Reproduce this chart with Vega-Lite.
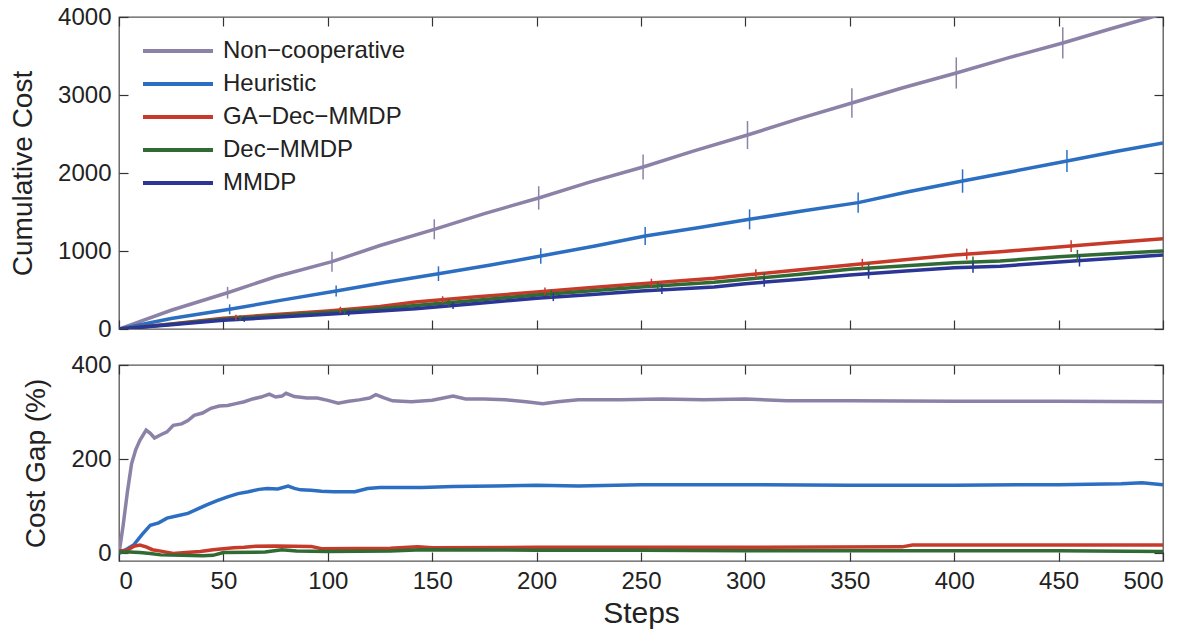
{
  "$schema": "https://vega.github.io/schema/vega-lite/v6.json",
  "background": "white",
  "padding": {"left": 8, "top": 4, "right": 17, "bottom": 0},
  "spacing": 10,
  "datasets": {
    "cost": [
      {"series": "Non−cooperative", "step": 0, "value": 0},
      {"series": "Non−cooperative", "step": 25, "value": 240},
      {"series": "Non−cooperative", "step": 52, "value": 465},
      {"series": "Non−cooperative", "step": 75, "value": 670},
      {"series": "Non−cooperative", "step": 102, "value": 863},
      {"series": "Non−cooperative", "step": 125, "value": 1070},
      {"series": "Non−cooperative", "step": 151, "value": 1278},
      {"series": "Non−cooperative", "step": 175, "value": 1480},
      {"series": "Non−cooperative", "step": 201, "value": 1680},
      {"series": "Non−cooperative", "step": 225, "value": 1880},
      {"series": "Non−cooperative", "step": 251, "value": 2077},
      {"series": "Non−cooperative", "step": 275, "value": 2280},
      {"series": "Non−cooperative", "step": 301, "value": 2487},
      {"series": "Non−cooperative", "step": 325, "value": 2690},
      {"series": "Non−cooperative", "step": 351, "value": 2897},
      {"series": "Non−cooperative", "step": 375, "value": 3090},
      {"series": "Non−cooperative", "step": 401, "value": 3282},
      {"series": "Non−cooperative", "step": 425, "value": 3470},
      {"series": "Non−cooperative", "step": 452, "value": 3667},
      {"series": "Non−cooperative", "step": 475, "value": 3850},
      {"series": "Non−cooperative", "step": 500, "value": 4040},
      {"series": "Heuristic", "step": 0, "value": 0},
      {"series": "Heuristic", "step": 25, "value": 135},
      {"series": "Heuristic", "step": 53, "value": 252},
      {"series": "Heuristic", "step": 78, "value": 370},
      {"series": "Heuristic", "step": 104, "value": 487},
      {"series": "Heuristic", "step": 128, "value": 600},
      {"series": "Heuristic", "step": 153, "value": 709},
      {"series": "Heuristic", "step": 178, "value": 820},
      {"series": "Heuristic", "step": 202, "value": 936},
      {"series": "Heuristic", "step": 228, "value": 1065},
      {"series": "Heuristic", "step": 252, "value": 1192},
      {"series": "Heuristic", "step": 278, "value": 1300},
      {"series": "Heuristic", "step": 302, "value": 1406},
      {"series": "Heuristic", "step": 328, "value": 1515},
      {"series": "Heuristic", "step": 354, "value": 1620},
      {"series": "Heuristic", "step": 378, "value": 1760},
      {"series": "Heuristic", "step": 404, "value": 1897},
      {"series": "Heuristic", "step": 428, "value": 2020},
      {"series": "Heuristic", "step": 454, "value": 2154},
      {"series": "Heuristic", "step": 478, "value": 2280},
      {"series": "Heuristic", "step": 500, "value": 2385},
      {"series": "GA−Dec−MMDP", "step": 0, "value": 0},
      {"series": "GA−Dec−MMDP", "step": 25, "value": 65},
      {"series": "GA−Dec−MMDP", "step": 50, "value": 137},
      {"series": "GA−Dec−MMDP", "step": 75, "value": 185},
      {"series": "GA−Dec−MMDP", "step": 100, "value": 231},
      {"series": "GA−Dec−MMDP", "step": 125, "value": 290},
      {"series": "GA−Dec−MMDP", "step": 142, "value": 345},
      {"series": "GA−Dec−MMDP", "step": 170, "value": 410},
      {"series": "GA−Dec−MMDP", "step": 200, "value": 474},
      {"series": "GA−Dec−MMDP", "step": 225, "value": 528},
      {"series": "GA−Dec−MMDP", "step": 250, "value": 581},
      {"series": "GA−Dec−MMDP", "step": 285, "value": 650},
      {"series": "GA−Dec−MMDP", "step": 300, "value": 692},
      {"series": "GA−Dec−MMDP", "step": 325, "value": 755},
      {"series": "GA−Dec−MMDP", "step": 350, "value": 820},
      {"series": "GA−Dec−MMDP", "step": 375, "value": 885},
      {"series": "GA−Dec−MMDP", "step": 400, "value": 949},
      {"series": "GA−Dec−MMDP", "step": 422, "value": 990},
      {"series": "GA−Dec−MMDP", "step": 450, "value": 1051},
      {"series": "GA−Dec−MMDP", "step": 475, "value": 1105},
      {"series": "GA−Dec−MMDP", "step": 500, "value": 1158},
      {"series": "Dec−MMDP", "step": 0, "value": 0},
      {"series": "Dec−MMDP", "step": 25, "value": 60},
      {"series": "Dec−MMDP", "step": 50, "value": 124},
      {"series": "Dec−MMDP", "step": 75, "value": 170},
      {"series": "Dec−MMDP", "step": 100, "value": 210},
      {"series": "Dec−MMDP", "step": 125, "value": 260},
      {"series": "Dec−MMDP", "step": 142, "value": 300},
      {"series": "Dec−MMDP", "step": 170, "value": 365},
      {"series": "Dec−MMDP", "step": 200, "value": 436},
      {"series": "Dec−MMDP", "step": 225, "value": 487},
      {"series": "Dec−MMDP", "step": 250, "value": 538},
      {"series": "Dec−MMDP", "step": 285, "value": 600},
      {"series": "Dec−MMDP", "step": 300, "value": 637},
      {"series": "Dec−MMDP", "step": 325, "value": 700},
      {"series": "Dec−MMDP", "step": 350, "value": 765},
      {"series": "Dec−MMDP", "step": 375, "value": 808},
      {"series": "Dec−MMDP", "step": 400, "value": 850},
      {"series": "Dec−MMDP", "step": 422, "value": 872},
      {"series": "Dec−MMDP", "step": 450, "value": 927},
      {"series": "Dec−MMDP", "step": 475, "value": 965},
      {"series": "Dec−MMDP", "step": 500, "value": 1000},
      {"series": "MMDP", "step": 0, "value": 0},
      {"series": "MMDP", "step": 25, "value": 55},
      {"series": "MMDP", "step": 50, "value": 111},
      {"series": "MMDP", "step": 75, "value": 150},
      {"series": "MMDP", "step": 100, "value": 188},
      {"series": "MMDP", "step": 125, "value": 230},
      {"series": "MMDP", "step": 142, "value": 261},
      {"series": "MMDP", "step": 170, "value": 325},
      {"series": "MMDP", "step": 200, "value": 393},
      {"series": "MMDP", "step": 225, "value": 440},
      {"series": "MMDP", "step": 250, "value": 487},
      {"series": "MMDP", "step": 285, "value": 538},
      {"series": "MMDP", "step": 300, "value": 581},
      {"series": "MMDP", "step": 325, "value": 636},
      {"series": "MMDP", "step": 350, "value": 692},
      {"series": "MMDP", "step": 375, "value": 740},
      {"series": "MMDP", "step": 400, "value": 786},
      {"series": "MMDP", "step": 422, "value": 805},
      {"series": "MMDP", "step": 450, "value": 859},
      {"series": "MMDP", "step": 475, "value": 905},
      {"series": "MMDP", "step": 500, "value": 949}
    ],
    "err": [
      {"series": "Non−cooperative", "step": 52, "lo": 390, "hi": 540},
      {"series": "Non−cooperative", "step": 102, "lo": 735, "hi": 991},
      {"series": "Non−cooperative", "step": 151, "lo": 1150, "hi": 1406},
      {"series": "Non−cooperative", "step": 201, "lo": 1530, "hi": 1830},
      {"series": "Non−cooperative", "step": 251, "lo": 1917, "hi": 2237},
      {"series": "Non−cooperative", "step": 301, "lo": 2307, "hi": 2667},
      {"series": "Non−cooperative", "step": 351, "lo": 2707, "hi": 3087},
      {"series": "Non−cooperative", "step": 401, "lo": 3082, "hi": 3482},
      {"series": "Non−cooperative", "step": 452, "lo": 3467, "hi": 3867},
      {"series": "Heuristic", "step": 53, "lo": 188, "hi": 316},
      {"series": "Heuristic", "step": 104, "lo": 417, "hi": 557},
      {"series": "Heuristic", "step": 153, "lo": 615, "hi": 803},
      {"series": "Heuristic", "step": 202, "lo": 836, "hi": 1036},
      {"series": "Heuristic", "step": 252, "lo": 1077, "hi": 1307},
      {"series": "Heuristic", "step": 302, "lo": 1278, "hi": 1534},
      {"series": "Heuristic", "step": 354, "lo": 1490, "hi": 1750},
      {"series": "Heuristic", "step": 404, "lo": 1747, "hi": 2047},
      {"series": "Heuristic", "step": 454, "lo": 2014, "hi": 2294},
      {"series": "GA−Dec−MMDP", "step": 56, "lo": 113, "hi": 183},
      {"series": "GA−Dec−MMDP", "step": 106, "lo": 205, "hi": 285},
      {"series": "GA−Dec−MMDP", "step": 155, "lo": 330, "hi": 420},
      {"series": "GA−Dec−MMDP", "step": 204, "lo": 433, "hi": 533},
      {"series": "GA−Dec−MMDP", "step": 255, "lo": 535, "hi": 645},
      {"series": "GA−Dec−MMDP", "step": 305, "lo": 645, "hi": 765},
      {"series": "GA−Dec−MMDP", "step": 356, "lo": 770, "hi": 900},
      {"series": "GA−Dec−MMDP", "step": 406, "lo": 890, "hi": 1030},
      {"series": "GA−Dec−MMDP", "step": 456, "lo": 987, "hi": 1137},
      {"series": "Dec−MMDP", "step": 58, "lo": 103, "hi": 173},
      {"series": "Dec−MMDP", "step": 108, "lo": 186, "hi": 266},
      {"series": "Dec−MMDP", "step": 158, "lo": 290, "hi": 380},
      {"series": "Dec−MMDP", "step": 207, "lo": 400, "hi": 500},
      {"series": "Dec−MMDP", "step": 258, "lo": 495, "hi": 605},
      {"series": "Dec−MMDP", "step": 309, "lo": 600, "hi": 720},
      {"series": "Dec−MMDP", "step": 359, "lo": 715, "hi": 845},
      {"series": "Dec−MMDP", "step": 409, "lo": 788, "hi": 928},
      {"series": "Dec−MMDP", "step": 459, "lo": 865, "hi": 1015},
      {"series": "MMDP", "step": 60, "lo": 91, "hi": 161},
      {"series": "MMDP", "step": 110, "lo": 165, "hi": 245},
      {"series": "MMDP", "step": 160, "lo": 257, "hi": 347},
      {"series": "MMDP", "step": 208, "lo": 358, "hi": 458},
      {"series": "MMDP", "step": 260, "lo": 450, "hi": 560},
      {"series": "MMDP", "step": 309, "lo": 541, "hi": 661},
      {"series": "MMDP", "step": 359, "lo": 644, "hi": 774},
      {"series": "MMDP", "step": 409, "lo": 722, "hi": 862},
      {"series": "MMDP", "step": 460, "lo": 802, "hi": 952}
    ],
    "gap": [
      {"series": "Non−cooperative", "step": 0, "value": 0},
      {"series": "Non−cooperative", "step": 2, "value": 60},
      {"series": "Non−cooperative", "step": 4, "value": 130},
      {"series": "Non−cooperative", "step": 6, "value": 190},
      {"series": "Non−cooperative", "step": 8, "value": 220},
      {"series": "Non−cooperative", "step": 10, "value": 240},
      {"series": "Non−cooperative", "step": 13, "value": 262},
      {"series": "Non−cooperative", "step": 15, "value": 255},
      {"series": "Non−cooperative", "step": 17, "value": 245},
      {"series": "Non−cooperative", "step": 20, "value": 252},
      {"series": "Non−cooperative", "step": 23, "value": 258},
      {"series": "Non−cooperative", "step": 26, "value": 272},
      {"series": "Non−cooperative", "step": 30, "value": 275},
      {"series": "Non−cooperative", "step": 33, "value": 282},
      {"series": "Non−cooperative", "step": 36, "value": 293},
      {"series": "Non−cooperative", "step": 40, "value": 298},
      {"series": "Non−cooperative", "step": 44, "value": 308},
      {"series": "Non−cooperative", "step": 48, "value": 313},
      {"series": "Non−cooperative", "step": 52, "value": 314},
      {"series": "Non−cooperative", "step": 56, "value": 318},
      {"series": "Non−cooperative", "step": 60, "value": 322},
      {"series": "Non−cooperative", "step": 64, "value": 328},
      {"series": "Non−cooperative", "step": 68, "value": 332},
      {"series": "Non−cooperative", "step": 72, "value": 338},
      {"series": "Non−cooperative", "step": 75, "value": 332},
      {"series": "Non−cooperative", "step": 78, "value": 334},
      {"series": "Non−cooperative", "step": 80, "value": 340},
      {"series": "Non−cooperative", "step": 84, "value": 333},
      {"series": "Non−cooperative", "step": 90, "value": 330},
      {"series": "Non−cooperative", "step": 95, "value": 330},
      {"series": "Non−cooperative", "step": 100, "value": 325},
      {"series": "Non−cooperative", "step": 105, "value": 319},
      {"series": "Non−cooperative", "step": 110, "value": 323},
      {"series": "Non−cooperative", "step": 115, "value": 326},
      {"series": "Non−cooperative", "step": 120, "value": 330},
      {"series": "Non−cooperative", "step": 123, "value": 337},
      {"series": "Non−cooperative", "step": 127, "value": 330},
      {"series": "Non−cooperative", "step": 131, "value": 324},
      {"series": "Non−cooperative", "step": 140, "value": 322},
      {"series": "Non−cooperative", "step": 150, "value": 325},
      {"series": "Non−cooperative", "step": 160, "value": 334},
      {"series": "Non−cooperative", "step": 166, "value": 328},
      {"series": "Non−cooperative", "step": 175, "value": 328},
      {"series": "Non−cooperative", "step": 185, "value": 326},
      {"series": "Non−cooperative", "step": 195, "value": 322},
      {"series": "Non−cooperative", "step": 203, "value": 318},
      {"series": "Non−cooperative", "step": 210, "value": 322},
      {"series": "Non−cooperative", "step": 220, "value": 326},
      {"series": "Non−cooperative", "step": 240, "value": 326},
      {"series": "Non−cooperative", "step": 260, "value": 328},
      {"series": "Non−cooperative", "step": 280, "value": 326},
      {"series": "Non−cooperative", "step": 300, "value": 328},
      {"series": "Non−cooperative", "step": 320, "value": 324},
      {"series": "Non−cooperative", "step": 350, "value": 324},
      {"series": "Non−cooperative", "step": 400, "value": 323},
      {"series": "Non−cooperative", "step": 450, "value": 323},
      {"series": "Non−cooperative", "step": 500, "value": 322},
      {"series": "Heuristic", "step": 0, "value": 0},
      {"series": "Heuristic", "step": 4, "value": 10},
      {"series": "Heuristic", "step": 7, "value": 18},
      {"series": "Heuristic", "step": 11, "value": 40},
      {"series": "Heuristic", "step": 15, "value": 60},
      {"series": "Heuristic", "step": 19, "value": 65},
      {"series": "Heuristic", "step": 23, "value": 75},
      {"series": "Heuristic", "step": 28, "value": 80},
      {"series": "Heuristic", "step": 33, "value": 85},
      {"series": "Heuristic", "step": 38, "value": 95},
      {"series": "Heuristic", "step": 42, "value": 103},
      {"series": "Heuristic", "step": 47, "value": 112},
      {"series": "Heuristic", "step": 52, "value": 120},
      {"series": "Heuristic", "step": 57, "value": 127},
      {"series": "Heuristic", "step": 62, "value": 131},
      {"series": "Heuristic", "step": 67, "value": 136},
      {"series": "Heuristic", "step": 71, "value": 138},
      {"series": "Heuristic", "step": 76, "value": 137},
      {"series": "Heuristic", "step": 81, "value": 143},
      {"series": "Heuristic", "step": 84, "value": 138},
      {"series": "Heuristic", "step": 87, "value": 135},
      {"series": "Heuristic", "step": 92, "value": 134},
      {"series": "Heuristic", "step": 97, "value": 132},
      {"series": "Heuristic", "step": 103, "value": 131},
      {"series": "Heuristic", "step": 113, "value": 131},
      {"series": "Heuristic", "step": 119, "value": 138},
      {"series": "Heuristic", "step": 125, "value": 140},
      {"series": "Heuristic", "step": 145, "value": 140},
      {"series": "Heuristic", "step": 160, "value": 142},
      {"series": "Heuristic", "step": 180, "value": 143},
      {"series": "Heuristic", "step": 200, "value": 145},
      {"series": "Heuristic", "step": 220, "value": 143},
      {"series": "Heuristic", "step": 250, "value": 146},
      {"series": "Heuristic", "step": 300, "value": 146},
      {"series": "Heuristic", "step": 350, "value": 145},
      {"series": "Heuristic", "step": 400, "value": 145},
      {"series": "Heuristic", "step": 450, "value": 146},
      {"series": "Heuristic", "step": 480, "value": 148},
      {"series": "Heuristic", "step": 490, "value": 150},
      {"series": "Heuristic", "step": 500, "value": 146},
      {"series": "GA−Dec−MMDP", "step": 0, "value": 5},
      {"series": "GA−Dec−MMDP", "step": 4, "value": 7},
      {"series": "GA−Dec−MMDP", "step": 7, "value": 15},
      {"series": "GA−Dec−MMDP", "step": 10, "value": 18},
      {"series": "GA−Dec−MMDP", "step": 13, "value": 14},
      {"series": "GA−Dec−MMDP", "step": 16, "value": 8},
      {"series": "GA−Dec−MMDP", "step": 20, "value": 5},
      {"series": "GA−Dec−MMDP", "step": 26, "value": 0},
      {"series": "GA−Dec−MMDP", "step": 32, "value": 2},
      {"series": "GA−Dec−MMDP", "step": 39, "value": 4},
      {"series": "GA−Dec−MMDP", "step": 45, "value": 8},
      {"series": "GA−Dec−MMDP", "step": 50, "value": 10},
      {"series": "GA−Dec−MMDP", "step": 55, "value": 12},
      {"series": "GA−Dec−MMDP", "step": 60, "value": 13},
      {"series": "GA−Dec−MMDP", "step": 64, "value": 15},
      {"series": "GA−Dec−MMDP", "step": 75, "value": 16},
      {"series": "GA−Dec−MMDP", "step": 92, "value": 15},
      {"series": "GA−Dec−MMDP", "step": 97, "value": 10},
      {"series": "GA−Dec−MMDP", "step": 130, "value": 11},
      {"series": "GA−Dec−MMDP", "step": 143, "value": 14},
      {"series": "GA−Dec−MMDP", "step": 150, "value": 12},
      {"series": "GA−Dec−MMDP", "step": 200, "value": 13},
      {"series": "GA−Dec−MMDP", "step": 300, "value": 13},
      {"series": "GA−Dec−MMDP", "step": 375, "value": 14},
      {"series": "GA−Dec−MMDP", "step": 380, "value": 18},
      {"series": "GA−Dec−MMDP", "step": 450, "value": 18},
      {"series": "GA−Dec−MMDP", "step": 500, "value": 18},
      {"series": "Dec−MMDP", "step": 0, "value": 3},
      {"series": "Dec−MMDP", "step": 5, "value": 3},
      {"series": "Dec−MMDP", "step": 10, "value": 2},
      {"series": "Dec−MMDP", "step": 15, "value": 0},
      {"series": "Dec−MMDP", "step": 20, "value": -3},
      {"series": "Dec−MMDP", "step": 30, "value": -4},
      {"series": "Dec−MMDP", "step": 40, "value": -5},
      {"series": "Dec−MMDP", "step": 45, "value": -4},
      {"series": "Dec−MMDP", "step": 50, "value": 2},
      {"series": "Dec−MMDP", "step": 70, "value": 3},
      {"series": "Dec−MMDP", "step": 78, "value": 8},
      {"series": "Dec−MMDP", "step": 85, "value": 5},
      {"series": "Dec−MMDP", "step": 100, "value": 4},
      {"series": "Dec−MMDP", "step": 130, "value": 5},
      {"series": "Dec−MMDP", "step": 145, "value": 8},
      {"series": "Dec−MMDP", "step": 200, "value": 7},
      {"series": "Dec−MMDP", "step": 250, "value": 7},
      {"series": "Dec−MMDP", "step": 300, "value": 6},
      {"series": "Dec−MMDP", "step": 400, "value": 6},
      {"series": "Dec−MMDP", "step": 450, "value": 6},
      {"series": "Dec−MMDP", "step": 500, "value": 4}
    ]
  },
  "vconcat": [
    {
      "width": 1044,
      "height": 312,
      "layer": [
        {
          "data": {"name": "cost"},
          "mark": {"type": "line", "strokeWidth": 3.5, "clip": true},
          "encoding": {
            "x": {"field": "step", "type": "quantitative", "scale": {"domain": [0, 500], "nice": false},
                  "axis": {"orient": "bottom", "labels": false, "title": null, "values": [0, 50, 100, 150, 200, 250, 300, 350, 400, 450, 500]}},
            "y": {"field": "value", "type": "quantitative", "scale": {"domain": [0, 4000], "nice": false},
                  "axis": {"orient": "left", "title": "Cumulative Cost", "format": "d", "values": [0, 1000, 2000, 3000, 4000]}},
            "color": {
              "field": "series", "type": "nominal",
              "scale": {"domain": ["Non−cooperative", "Heuristic", "GA−Dec−MMDP", "Dec−MMDP", "MMDP"],
                        "range": ["#8c82a8", "#2c6fc2", "#c73a2a", "#2f6b33", "#2b3596"]},
              "legend": {"orient": "none", "legendX": 17, "legendY": 22, "title": null,
                         "symbolType": "M-1,0H13", "symbolSize": 100, "symbolStrokeWidth": 4,
                         "labelFontSize": 24, "labelOffset": 63, "labelLimit": 400, "rowPadding": 9, "labelColor": "#222"}
            }
          }
        },
        {
          "data": {"name": "err"},
          "mark": {"type": "rule", "strokeWidth": 1.5, "clip": true},
          "encoding": {
            "x": {"field": "step", "type": "quantitative",
                  "axis": {"orient": "top", "labels": false, "title": null, "values": [0, 50, 100, 150, 200, 250, 300, 350, 400, 450, 500]}},
            "y": {"field": "lo", "type": "quantitative",
                  "axis": {"orient": "right", "labels": false, "title": null, "values": [0, 1000, 2000, 3000, 4000]}},
            "y2": {"field": "hi"},
            "color": {"field": "series", "type": "nominal"}
          }
        }
      ],
      "resolve": {"axis": {"x": "independent", "y": "independent"}}
    },
    {
      "width": 1044,
      "height": 196,
      "layer": [
        {
          "data": {"name": "gap"},
          "transform": [{"filter": "datum.series === 'Non−cooperative' || datum.series === 'Heuristic'"}],
          "mark": {"type": "line", "strokeWidth": 3.5, "clip": true},
          "encoding": {
            "x": {"field": "step", "type": "quantitative", "scale": {"domain": [0, 500], "nice": false},
                  "axis": {"orient": "bottom", "title": "Steps", "titleFontSize": 30, "values": [0, 50, 100, 150, 200, 250, 300, 350, 400, 450, 500]}},
            "y": {"field": "value", "type": "quantitative", "scale": {"domain": [-16, 400], "nice": false, "zero": false},
                  "axis": {"orient": "left", "title": "Cost Gap (%)", "values": [0, 200, 400]}},
            "color": {"field": "series", "type": "nominal"}
          }
        },
        {
          "data": {"name": "gap"},
          "transform": [{"filter": "datum.series === 'GA−Dec−MMDP' || datum.series === 'Dec−MMDP'"}],
          "mark": {"type": "line", "strokeWidth": 3.5, "clip": true},
          "encoding": {
            "x": {"field": "step", "type": "quantitative",
                  "axis": {"orient": "top", "labels": false, "title": null, "values": [0, 50, 100, 150, 200, 250, 300, 350, 400, 450, 500]}},
            "y": {"field": "value", "type": "quantitative",
                  "axis": {"orient": "right", "labels": false, "title": null, "values": [0, 200, 400]}},
            "color": {"field": "series", "type": "nominal"}
          }
        }
      ],
      "resolve": {"axis": {"x": "independent", "y": "independent"}}
    }
  ],
  "config": {
    "font": "Liberation Sans",
    "view": {"stroke": "#555", "strokeWidth": 1.3},
    "axis": {
      "domain": false, "grid": false,
      "tickSize": -9, "tickColor": "#333", "tickWidth": 1.2,
      "labelFontSize": 24, "labelColor": "#222", "labelFont": "Liberation Sans",
      "titleFontSize": 28, "titleFontWeight": "normal", "titleColor": "#222", "titleFont": "Liberation Sans"
    },
    "axisX": {"labelPadding": 17, "titlePadding": 5},
    "axisY": {"labelPadding": 17, "titlePadding": 20},
    "legend": {"labelFont": "Liberation Sans"}
  }
}
